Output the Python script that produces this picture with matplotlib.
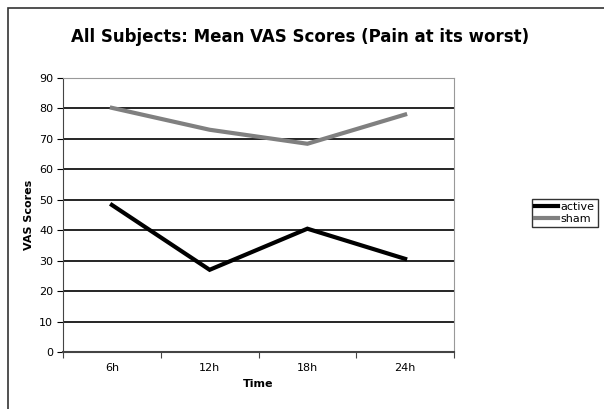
import matplotlib.pyplot as plt
from matplotlib.patches import Rectangle

# Mean VAS scores per time point
times = ['6h', '12h', '18h', '24h']
active = [48.3, 27.0, 40.5, 30.6]
sham = [80.2, 73.0, 68.4, 78.0]

W, H = 604, 409
fig = plt.figure(figsize=(W / 100, H / 100), dpi=100)
plt.rcParams['font.family'] = ['DejaVu Sans']

# outer chart frame (runs off right and bottom edges)
fig.patches.append(Rectangle((8 / W, -0.05), 1.1, 1 - 8 / H + 0.05,
                             transform=fig.transFigure, fill=False,
                             edgecolor='#333333', linewidth=1.2))

left, right, top, bottom = 63, 454, 78, 352
ax = fig.add_axes([left / W, 1 - bottom / H, (right - left) / W, (bottom - top) / H])

x = range(len(times))
ax.plot(x, active, color='black', linewidth=3, label='active', solid_joinstyle='miter')
ax.plot(x, sham, color='#808080', linewidth=3, label='sham', solid_joinstyle='miter')

ax.set_xlim(-0.5, len(times) - 0.5)
ax.set_ylim(0, 90)
ax.set_yticks(range(0, 91, 10))
ax.yaxis.grid(True, color='black', linewidth=1.2)
ax.set_axisbelow(True)

ax.set_xticks([i - 0.5 for i in range(len(times) + 1)])
ax.set_xticklabels([])
ax.set_xticks(list(x), minor=True)
ax.set_xticklabels(times, minor=True, fontsize=8)
ax.tick_params(axis='x', which='minor', length=0, pad=8)
ax.tick_params(axis='x', which='major', length=4, color='#444444')
ax.tick_params(axis='y', length=4, labelsize=8, pad=3)

for side in ['top', 'right']:
    ax.spines[side].set_color('#999999')
ax.spines['left'].set_color('#444444')
ax.spines['bottom'].set_color('#444444')
ax.spines['bottom'].set_linewidth(1.5)

ax.set_xlabel('Time', fontsize=8, fontweight='bold', labelpad=4)
ax.set_ylabel('VAS Scores', fontsize=8, fontweight='bold', labelpad=4)

fig.text(300 / W, 1 - 37 / H, 'All Subjects: Mean VAS Scores (Pain at its worst)',
         ha='center', va='center', fontsize=12, fontweight='bold')

leg = fig.legend(loc='center left', bbox_to_anchor=(532 / W, 1 - 213 / H),
                 fontsize=8, frameon=True, fancybox=False, handlelength=2.0,
                 handletextpad=0.25, borderpad=0.3, labelspacing=0.15,
                 borderaxespad=0)
leg.get_frame().set_edgecolor('black')
leg.get_frame().set_linewidth(1)

fig.savefig('out.png', dpi=100)
